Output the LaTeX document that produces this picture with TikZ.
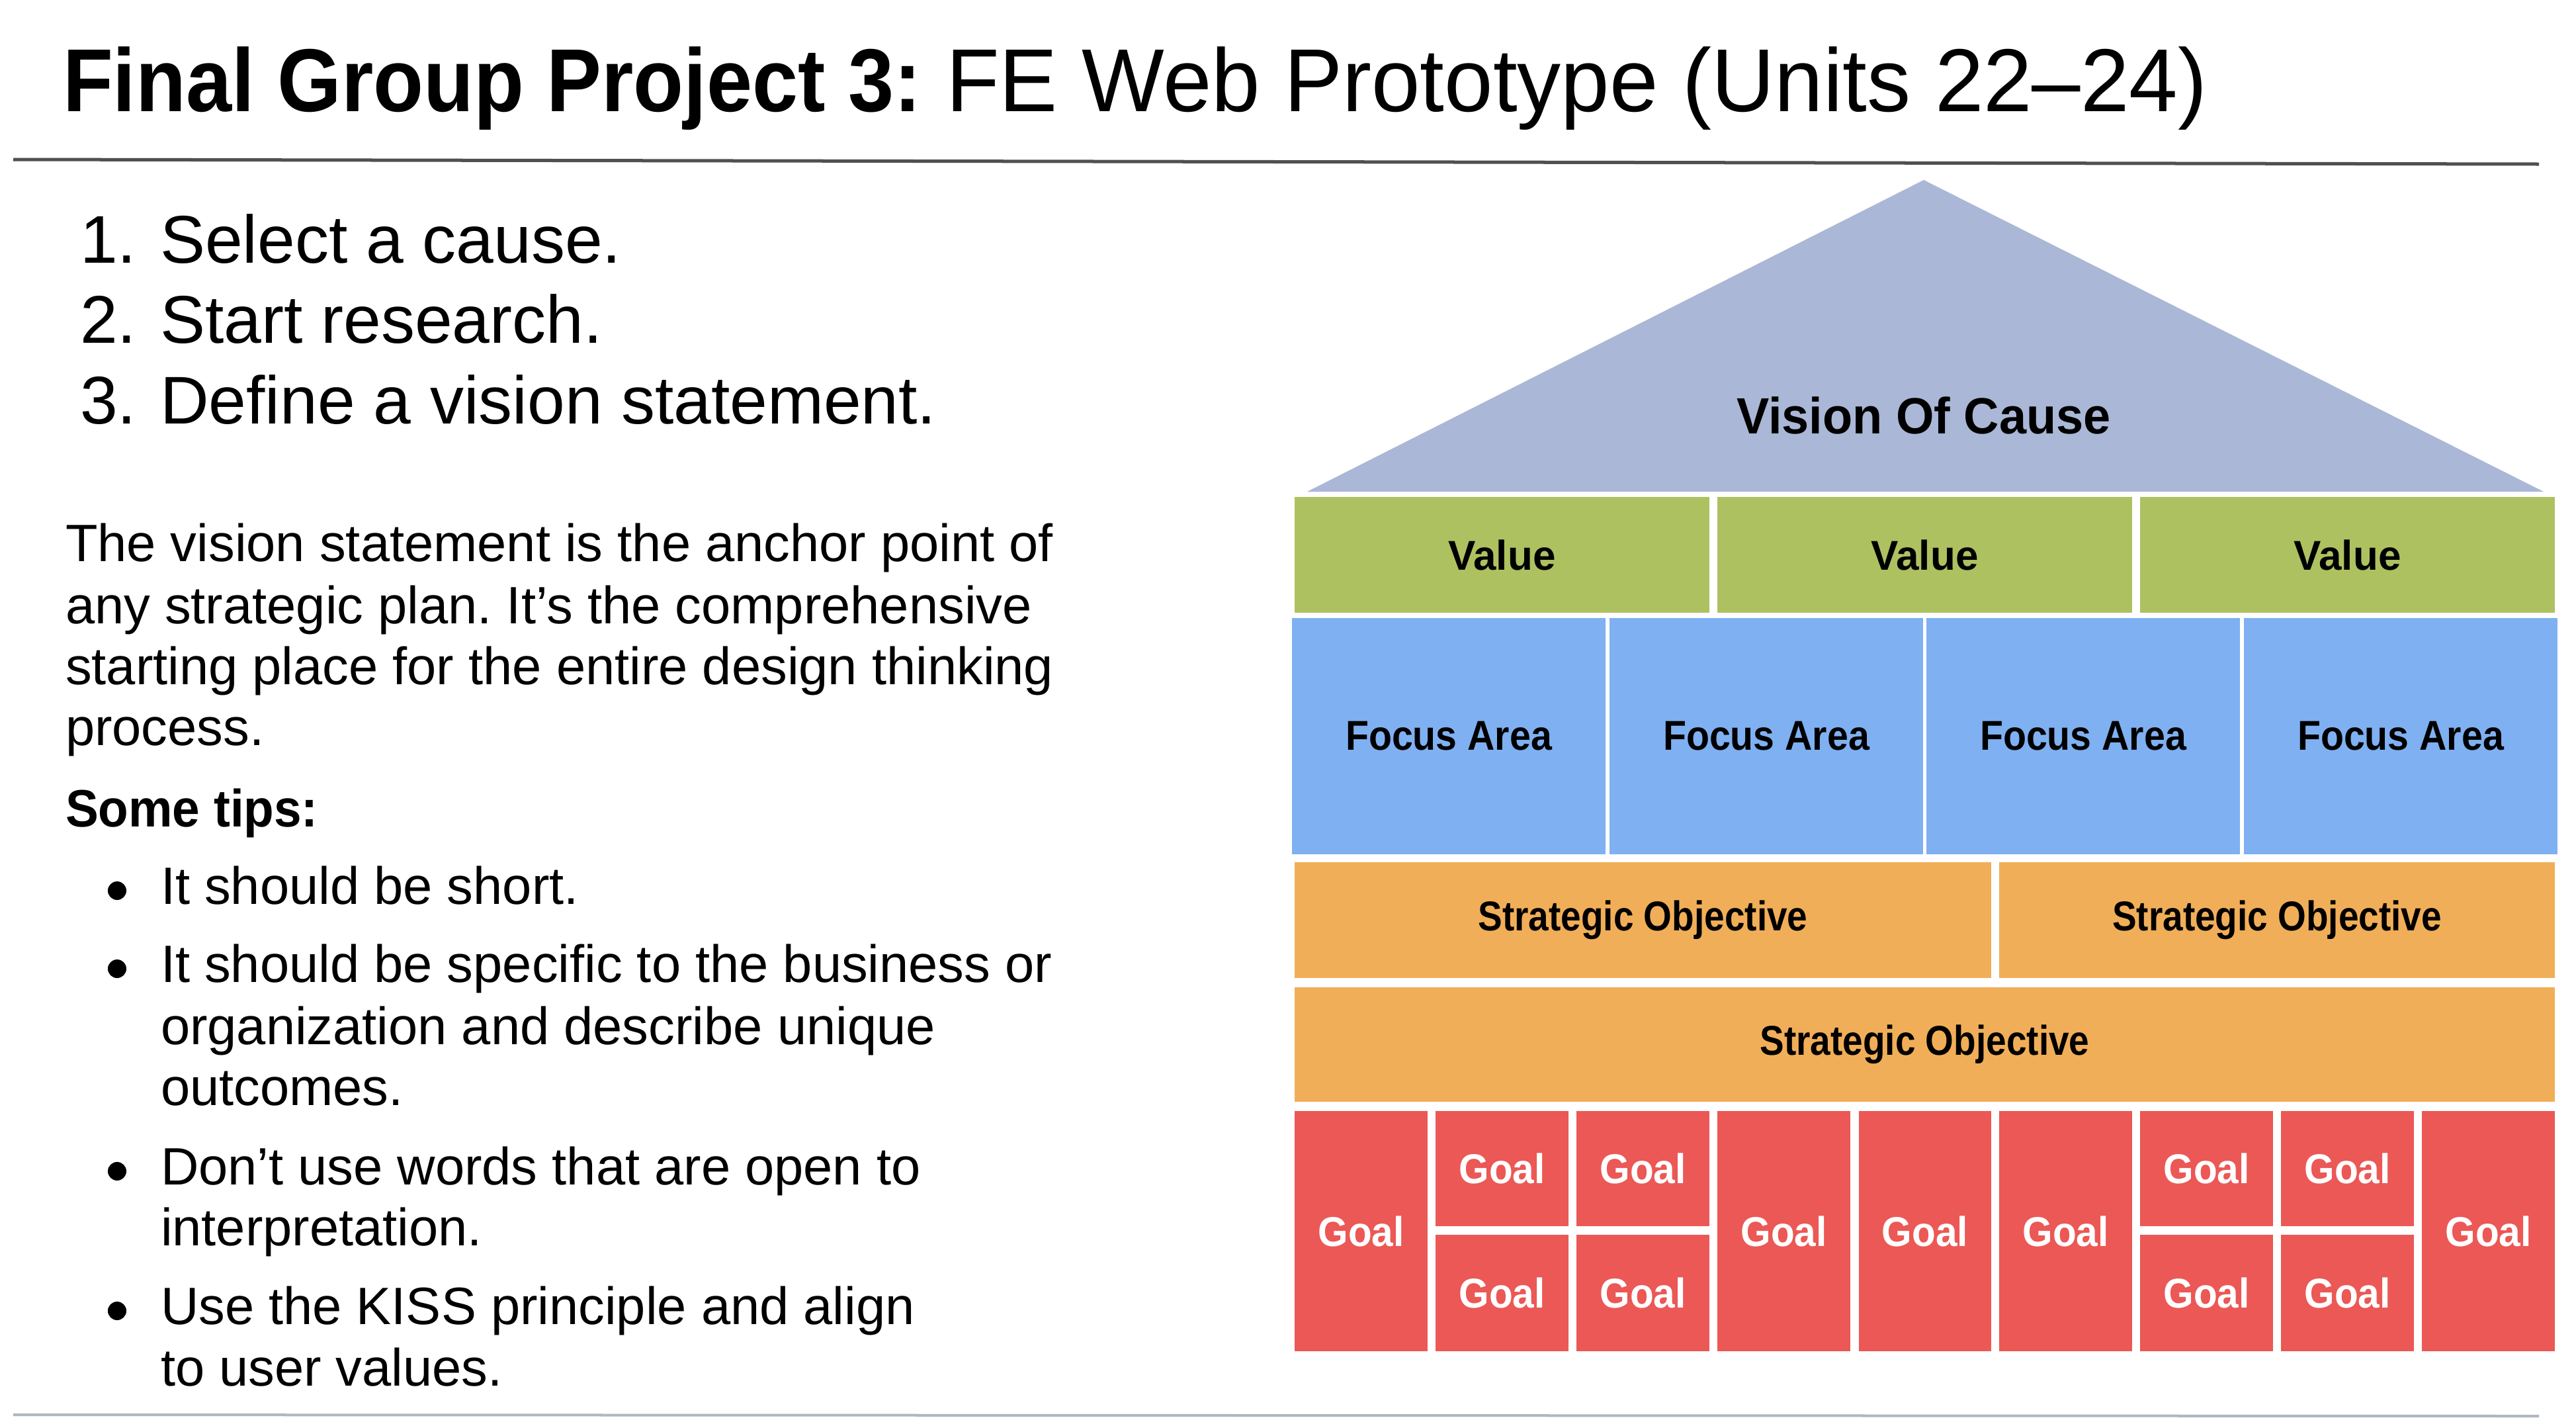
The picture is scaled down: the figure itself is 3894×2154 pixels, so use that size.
\documentclass[tikz,border=0pt]{standalone}
\usepackage{fontspec}
\usepackage{graphicx}
\setmainfont{Liberation Sans}
\frenchspacing
\definecolor{tri}{HTML}{AAB7D6}
\definecolor{vgreen}{HTML}{AEC161}
\definecolor{fblue}{HTML}{7FB0F1}
\definecolor{sorange}{HTML}{F1AE58}
\definecolor{gred}{HTML}{EB5855}
\definecolor{hline}{HTML}{505050}
\definecolor{bline}{HTML}{B0B6C2}
\newcommand{\hs}[2]{\scalebox{#1}[1]{#2}}
\newcommand{\cellbox}[7]{\node[cellstyle, fill=#6, minimum width={(#4-#2)*0.01cm}, minimum height={(#5-#3)*0.01cm}] (#1) at ({(#2+#4)/2},{(#3+#5)/2}) {#7};}
\tikzset{
  cellstyle/.style={rectangle, inner sep=0pt, outer sep=0pt, draw=none, font=\fontsize{17.9pt}{20pt}\selectfont\bfseries},
  txt/.style={anchor=base west, inner sep=0pt, outer sep=0pt},
  big/.style={txt, font=\fontsize{29pt}{34pt}\selectfont},
  body/.style={txt, font=\fontsize{22.6pt}{27pt}\selectfont},
  dot/.style={circle, fill=black, inner sep=0pt, minimum size=0.28cm},
}
\begin{document}
\begin{tikzpicture}[x=0.01cm, y=-0.01cm]
\fill[white] (0,0) rectangle (3894,2154);
\useasboundingbox (0,0) rectangle (3894,2154);
% title
\node[txt, font=\fontsize{38.4pt}{46pt}\selectfont] (title) at (95,168) {\hs{0.92}{\textbf{Final Group Project 3:}} \hs{0.978}{FE Web Prototype (Units 22–24)}};
\coordinate (hl1) at (20,241);
\coordinate (hl2) at (3838,248);
\draw[hline, line width=0.05cm] (hl1) -- (hl2);
\coordinate (bl1) at (20,2138);
\coordinate (bl2) at (3838,2140);
\draw[bline, line width=0.04cm] (bl1) -- (bl2);
% numbered list
\node[big] (n1) at (121,397) {1.};
\node[big] (t1) at (242,397) {Select a cause.};
\node[big] (n2) at (121,518) {2.};
\node[big] (t2) at (242,518) {Start research.};
\node[big] (n3) at (121,640) {3.};
\node[big] (t3) at (242,640) {Define a vision statement.};
% paragraph
\node[body] (p1) at (99,848) {The vision statement is the anchor point of};
\node[body] (p2) at (99,942) {any strategic plan. It’s the comprehensive};
\node[body] (p3) at (99,1034) {starting place for the entire design thinking};
\node[body] (p4) at (99,1126) {process.};
\node[body, font=\fontsize{22.6pt}{27pt}\selectfont\bfseries] (tips) at (99,1249) {\hs{0.94}{Some tips:}};
% bullets
\node[dot] (d1) at (177,1346) {};
\node[body] (b1) at (243,1366) {It should be short.};
\node[dot] (d2) at (177,1464) {};
\node[body] (b2a) at (243,1484) {It should be specific to the business or};
\node[body] (b2b) at (243,1578) {organization and describe unique};
\node[body] (b2c) at (243,1670) {outcomes.};
\node[dot] (d3) at (177,1770) {};
\node[body] (b3a) at (243,1790) {Don’t use words that are open to};
\node[body] (b3b) at (243,1882) {interpretation.};
\node[dot] (d4) at (177,1981) {};
\node[body] (b4a) at (243,2001) {Use the KISS principle and align};
\node[body] (b4b) at (243,2094) {to user values.};
% triangle
\fill[tri] (2908,272) -- (3845,743) -- (1976,743) -- cycle;
\node[font=\fontsize{21.9pt}{26pt}\selectfont\bfseries, inner sep=0pt] (vision) at (2908,628) {\hs{0.96}{Vision Of Cause}};
% values
\cellbox{v1}{1957}{751}{2584}{926}{vgreen}{\hs{0.985}{Value}}
\cellbox{v2}{2596}{751}{3223}{926}{vgreen}{\hs{0.985}{Value}}
\cellbox{v3}{3235}{751}{3862}{926}{vgreen}{\hs{0.985}{Value}}
% focus areas
\cellbox{f1}{1953}{934}{2427}{1291}{fblue}{\hs{0.91}{Focus Area}}
\cellbox{f2}{2433}{934}{2907}{1291}{fblue}{\hs{0.91}{Focus Area}}
\cellbox{f3}{2912}{934}{3386}{1291}{fblue}{\hs{0.91}{Focus Area}}
\cellbox{f4}{3392}{934}{3866}{1291}{fblue}{\hs{0.91}{Focus Area}}
% strategic objectives
\cellbox{s1}{1957}{1303}{3010}{1478}{sorange}{\hs{0.873}{Strategic Objective}}
\cellbox{s2}{3022}{1303}{3862}{1478}{sorange}{\hs{0.873}{Strategic Objective}}
\cellbox{s3}{1957}{1492}{3862}{1665}{sorange}{\hs{0.873}{Strategic Objective}}
% goals
\tikzset{cellstyle/.append style={text=white}}
\cellbox{g1}{1957}{1679}{2158}{2042}{gred}{\hs{0.93}{Goal}}
\cellbox{g2a}{2170}{1679}{2371}{1853}{gred}{\hs{0.93}{Goal}}
\cellbox{g2b}{2170}{1866}{2371}{2042}{gred}{\hs{0.93}{Goal}}
\cellbox{g3a}{2383}{1679}{2584}{1853}{gred}{\hs{0.93}{Goal}}
\cellbox{g3b}{2383}{1866}{2584}{2042}{gred}{\hs{0.93}{Goal}}
\cellbox{g4}{2596}{1679}{2797}{2042}{gred}{\hs{0.93}{Goal}}
\cellbox{g5}{2810}{1679}{3010}{2042}{gred}{\hs{0.93}{Goal}}
\cellbox{g6}{3022}{1679}{3223}{2042}{gred}{\hs{0.93}{Goal}}
\cellbox{g7a}{3235}{1679}{3436}{1853}{gred}{\hs{0.93}{Goal}}
\cellbox{g7b}{3235}{1866}{3436}{2042}{gred}{\hs{0.93}{Goal}}
\cellbox{g8a}{3448}{1679}{3649}{1853}{gred}{\hs{0.93}{Goal}}
\cellbox{g8b}{3448}{1866}{3649}{2042}{gred}{\hs{0.93}{Goal}}
\cellbox{g9}{3661}{1679}{3862}{2042}{gred}{\hs{0.93}{Goal}}
\end{tikzpicture}
\end{document}
